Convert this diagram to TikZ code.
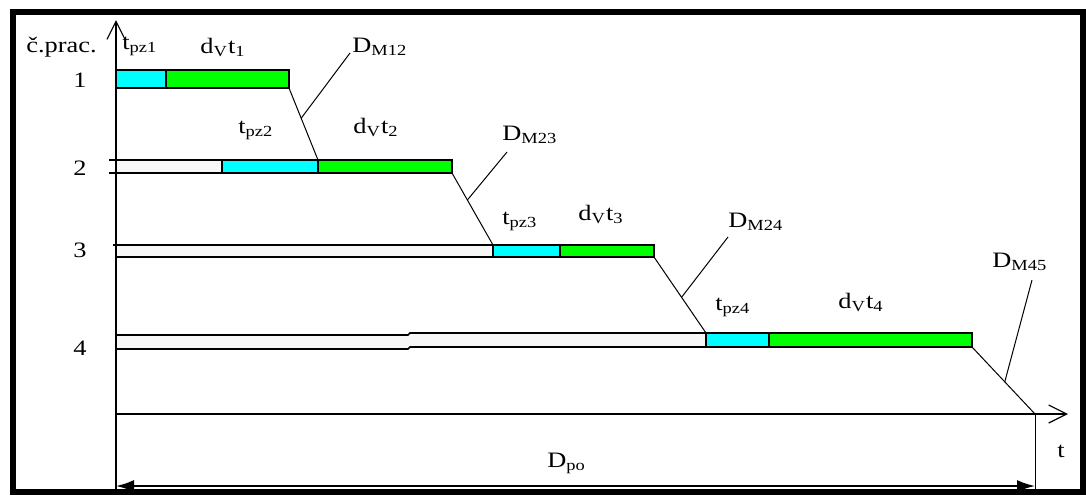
\documentclass[tikz,border=0pt]{standalone}
\usepackage{fontspec}
\setmainfont{Liberation Serif}
\usetikzlibrary{arrows.meta}
\definecolor{pzcyan}{RGB}{0,255,255}
\definecolor{vgreen}{RGB}{0,255,0}
\newcommand{\wide}[1]{\scalebox{1.2}[1]{#1}}
\tikzset{
  lbl/.style={font=\fontsize{11}{13}\selectfont, inner sep=0pt, anchor=base west},
  pzbar/.style={draw, fill=pzcyan, line width=0.9pt, inner sep=0pt, outer sep=0pt, anchor=north west},
  vbar/.style={draw, fill=vgreen, line width=0.9pt, inner sep=0pt, outer sep=0pt, anchor=north west},
  wline/.style={line width=0.8pt},
  mline/.style={line width=0.5pt},
  axarrow/.style={-{Straight Barb[length=9pt,width=9pt]}, line width=0.6pt},
  dimarrow/.style={{Latex[length=9pt,width=6pt]}-{Latex[length=9pt,width=6pt]}, line width=0.9pt}
}

\begin{document}
\begin{tikzpicture}[x=0.5pt, y=-0.5pt]
    \useasboundingbox (0,0) rectangle (1086,495);
    \draw[line width=3pt] (13,12) rectangle (1083,492);

    \coordinate (ybot) at (116,489);
    \coordinate (ytop) at (116,20);
    \coordinate (orig) at (116,414);
    \coordinate (xend) at (1068,414);
    \coordinate (tend) at (1035,414);
    \coordinate (tbot) at (1035,489);
    \coordinate (dl) at (116,486);
    \coordinate (dr) at (1035,486);

    \fill[gray!6] (116,160) rectangle (222,173);
    \fill[gray!6] (116,245) rectangle (493,257);
    \fill[gray!6] (116,335) -- (408,335) -- (410,333) -- (706,333)
      -- (706,347) -- (410,347) -- (408,349) -- (116,349) -- cycle;

    \node[pzbar, minimum width=25pt, minimum height=9pt] (c1) at (116,70) {};
    \node[vbar, minimum width=61.5pt, minimum height=9pt] (g1) at (c1.north east) {};
    \node[pzbar, minimum width=48pt, minimum height=6.5pt] (c2) at (222,160) {};
    \node[vbar, minimum width=67pt, minimum height=6.5pt] (g2) at (c2.north east) {};
    \node[pzbar, minimum width=33.5pt, minimum height=6pt] (c3) at (493,245) {};
    \node[vbar, minimum width=47pt, minimum height=6pt] (g3) at (c3.north east) {};
    \node[pzbar, minimum width=31.5pt, minimum height=7pt] (c4) at (706,333) {};
    \node[vbar, minimum width=101.5pt, minimum height=7pt] (g4) at (c4.north east) {};

    \draw[wline] (109,160) -- (c2.north west);
    \draw[wline] (109,173) -- (c2.south west);
    \draw[wline] (113,245) -- (c3.north west);
    \draw[wline] (116,257) -- (c3.south west);
    \draw[wline] (116,335) -- (408,335) -- (410,333) -- (c4.north west);
    \draw[wline] (116,349) -- (408,349) -- (410,347) -- (c4.south west);

    \draw[axarrow] (ybot) -- (ytop);
    \draw[axarrow] (orig) -- (xend);
    \draw[mline] (tend) -- (tbot);
    \draw[dimarrow] (dl) -- (dr);

    \draw[mline] (g1.south east) -- coordinate[pos=0.42] (m12) (g2.north west);
    \draw[mline] (g2.south east) -- coordinate[pos=0.375] (m23) (c3.north west);
    \draw[mline] (g3.south east) -- coordinate[pos=0.53] (m24) (c4.north west);
    \draw[mline] (g4.south east) -- coordinate[pos=0.52] (m45) (tend);

    \coordinate (l12) at (350,53);
    \coordinate (l23) at (507,152);
    \coordinate (l24) at (728,237);
    \coordinate (l45) at (1032,280);
    \draw[mline] (l12) -- (m12);
    \draw[mline] (l23) -- (m23);
    \draw[mline] (l24) -- (m24);
    \draw[mline] (l45) -- (m45);

    \node[lbl] (prac) at (26,52) {\wide{č.prac.}};
    \node[lbl, anchor=base] (n1) at (80,87) {\wide{1}};
    \node[lbl, anchor=base] (n2) at (80,175) {\wide{2}};
    \node[lbl, anchor=base] (n3) at (80,257) {\wide{3}};
    \node[lbl, anchor=base] (n4) at (80,355) {\wide{4}};

    \node[lbl] (tpz1) at (122,49) {\wide{t\textsubscript{pz1}}};
    \node[lbl] (dvt1) at (200,53) {\wide{d\textsubscript{V}t\textsubscript{1}}};
    \node[lbl] (dm12) at (352,52) {\wide{D\textsubscript{M12}}};
    \node[lbl] (tpz2) at (238,133) {\wide{t\textsubscript{pz2}}};
    \node[lbl] (dvt2) at (353,133) {\wide{d\textsubscript{V}t\textsubscript{2}}};
    \node[lbl] (dm23) at (502,140) {\wide{D\textsubscript{M23}}};
    \node[lbl] (tpz3) at (502,224) {\wide{t\textsubscript{pz3}}};
    \node[lbl] (dvt3) at (578,220) {\wide{d\textsubscript{V}t\textsubscript{3}}};
    \node[lbl] (dm24) at (728,227) {\wide{D\textsubscript{M24}}};
    \node[lbl] (tpz4) at (715,310) {\wide{t\textsubscript{pz4}}};
    \node[lbl] (dvt4) at (838,308) {\wide{d\textsubscript{V}t\textsubscript{4}}};
    \node[lbl] (dm45) at (992,267) {\wide{D\textsubscript{M45}}};
    \node[lbl] (dpo) at (547,467) {\wide{D\textsubscript{po}}};
    \node[lbl] (tlab) at (1057,457) {\wide{t}};
\end{tikzpicture}
\end{document}
